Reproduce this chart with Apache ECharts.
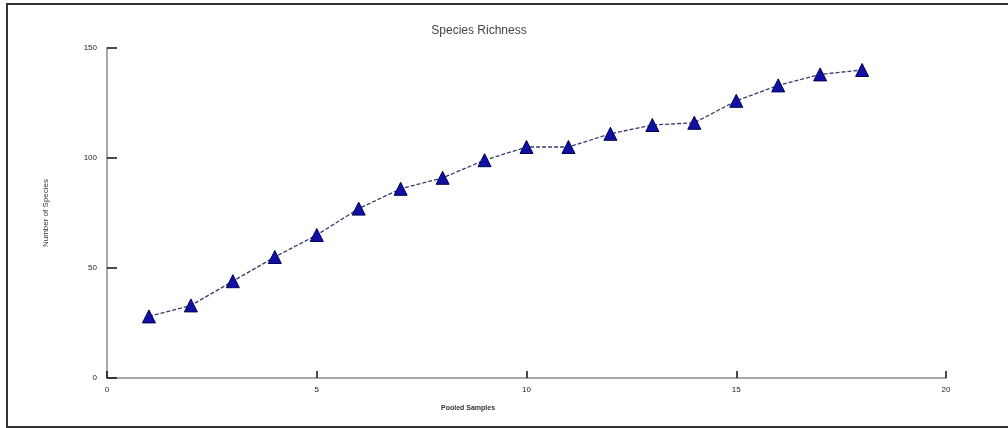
<!DOCTYPE html>
<html>
<head>
<meta charset="utf-8">
<script src="https://cdn.jsdelivr.net/npm/echarts@6/dist/echarts.min.js"></script>
<style>
html,body{margin:0;padding:0;background:#fff;}
#chart{width:1008px;height:428px;}
</style>
</head>
<body>
<div id="chart"></div>
<script>
const titleText = 'Species Richness';
const xAxisName = 'Pooled Samples';
const yAxisName = 'Number of Species';
const samples = [1,2,3,4,5,6,7,8,9,10,11,12,13,14,15,16,17,18];
const richness = [28,33,44,55,65,77,86,91,99,105,105,111,115,116,126,133,138,140];

const chart = echarts.init(document.getElementById('chart'));
const seriesData = samples.map((s, i) => [s, richness[i]]);

chart.setOption({
  animation: false,
  backgroundColor: '#fff',
  title: {
    text: titleText,
    left: 474, top: 20,
    textAlign: 'center',
    textStyle: { fontFamily: 'Liberation Sans', fontSize: 12, fontWeight: 'normal', color: '#444' }
  },
  grid: { left: 107, right: 62, top: 48, bottom: 50 },
  xAxis: {
    type: 'value', min: 0, max: 20, interval: 5,
    axisLine: { show: true, lineStyle: { color: '#a8a8a8', width: 2 } },
    axisTick: { show: true, inside: true, length: 7, lineStyle: { color: '#111', width: 1.5 } },
    axisLabel: { fontFamily: 'Liberation Sans', fontSize: 8, color: '#222', margin: 8 },
    splitLine: { show: false }
  },
  yAxis: {
    type: 'value', min: 0, max: 150, interval: 50,
    name: yAxisName, nameLocation: 'middle', nameGap: 57, nameRotate: 90,
    nameTextStyle: { fontFamily: 'Liberation Sans', fontSize: 8, color: '#333' },
    axisLine: { show: true, lineStyle: { color: '#a8a8a8', width: 2 } },
    axisTick: { show: true, inside: true, length: 10, lineStyle: { color: '#111', width: 1.5 } },
    axisLabel: { fontFamily: 'Liberation Sans', fontSize: 8, color: '#222', margin: 10 },
    splitLine: { show: false }
  },
  graphic: [
    { type: 'rect', shape: { x: 7, y: 4, width: 1020, height: 423 }, style: { fill: 'none', stroke: '#333', lineWidth: 2 }, silent: true },
    { type: 'text', left: 441, top: 405, style: { text: xAxisName, font: 'bold 7px Liberation Sans', fill: '#333' } }
  ],
  series: [{
    type: 'line',
    data: seriesData,
    symbol: 'triangle',
    symbolSize: 13,
    itemStyle: { color: '#1010a6', borderColor: '#000050', borderWidth: 1 },
    lineStyle: { color: '#3a3a6a', width: 1.3, type: [4, 2] }
  }]
});
</script>
</body>
</html>
